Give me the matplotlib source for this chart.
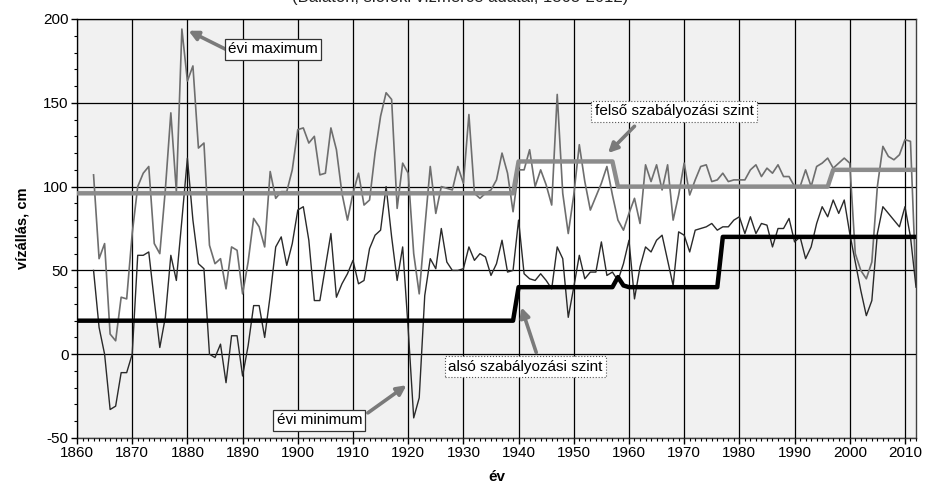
import numpy as np
import matplotlib
matplotlib.use('Agg')
import matplotlib.pyplot as plt
from matplotlib.ticker import MultipleLocator

plt.rcParams['font.family'] = ['Liberation Sans', 'DejaVu Sans']
plt.rcParams['axes.unicode_minus'] = False

# annual maximum / minimum water level (cm), 1863-2012
years = list(range(1863, 2013))
max_level = [107, 57, 66, 12, 8, 34, 33, 72, 100, 108,
             112, 66, 60, 98, 144, 97, 194, 163, 172, 123,
             126, 65, 54, 57, 39, 64, 62, 36, 55, 81,
             76, 64, 109, 93, 97, 97, 110, 134, 135, 126,
             130, 107, 108, 135, 122, 96, 80, 96, 108, 89,
             92, 120, 142, 156, 152, 87, 114, 108, 60, 36,
             75, 112, 84, 100, 99, 98, 112, 102, 143, 96,
             93, 96, 98, 104, 120, 108, 85, 110, 110, 122,
             100, 110, 101, 89, 155, 96, 72, 95, 125, 103,
             86, 94, 102, 112, 95, 80, 74, 84, 93, 78,
             113, 103, 113, 98, 113, 80, 95, 114, 95, 104,
             112, 113, 103, 104, 108, 103, 104, 104, 104, 110,
             113, 106, 111, 108, 113, 106, 106, 100, 100, 110,
             100, 112, 114, 117, 111, 114, 117, 114, 60, 50,
             45, 55, 100, 124, 118, 116, 119, 128, 127, 42]
min_level = [50, 16, 0, -33, -31, -11, -11, 0, 59, 59,
             61, 32, 4, 22, 59, 44, 80, 117, 80, 54,
             51, 0, -2, 6, -17, 11, 11, -13, 5, 29,
             29, 10, 35, 64, 70, 53, 66, 86, 88, 68,
             32, 32, 52, 72, 34, 42, 48, 56, 42, 44,
             63, 71, 74, 100, 70, 44, 64, 15, -38, -26,
             35, 57, 51, 75, 55, 50, 50, 51, 64, 56,
             60, 58, 47, 54, 68, 49, 50, 80, 48, 45,
             44, 48, 44, 39, 64, 57, 22, 40, 59, 45,
             49, 49, 67, 47, 49, 44, 54, 68, 33, 52,
             64, 61, 68, 71, 56, 41, 73, 71, 61, 74,
             75, 76, 78, 74, 76, 76, 80, 82, 72, 82,
             72, 78, 77, 64, 75, 75, 81, 67, 70, 57,
             64, 78, 88, 82, 92, 84, 92, 72, 55, 38,
             23, 32, 72, 88, 84, 80, 76, 88, 70, 40]

# regulation levels (cm)
level_years = [1860, 1939, 1940, 1957, 1958, 1959, 1960, 1976, 1977, 1996, 1997, 2012]
upper_level = [96, 96, 115, 115, 100, 100, 100, 100, 100, 100, 110, 110]
lower_level = [20, 20, 40, 40, 46, 41, 40, 40, 70, 70, 70, 70]

fig = plt.figure(figsize=(9.25, 4.91), dpi=100)
ax = fig.add_axes([77/925, 1 - 438/491, (916 - 77)/925, (438 - 19)/491])
ax.set_facecolor('#f1f1f1')

ax.fill_between(level_years, lower_level, upper_level, color='white', zorder=1)
ax.grid(True, which='major', color='black', lw=0.9, zorder=2)
ax.set_axisbelow(False)

ax.plot(years, max_level, color='#6e6e6e', lw=1.2, zorder=3)
ax.plot(years, min_level, color='#2a2a2a', lw=1.0, zorder=3)
ax.plot(level_years, upper_level, color='#8c8c8c', lw=3.2, zorder=4)
ax.plot(level_years, lower_level, color='black', lw=3.2, zorder=4)

ax.set_xlim(1860, 2012)
ax.set_ylim(-50, 200)
ax.xaxis.set_major_locator(MultipleLocator(10))
ax.xaxis.set_minor_locator(MultipleLocator(1))
ax.yaxis.set_major_locator(MultipleLocator(50))
ax.yaxis.set_minor_locator(MultipleLocator(10))
ax.tick_params(which='major', length=4, width=1, labelsize=11, pad=2)
ax.tick_params(which='minor', length=2.5, width=0.8)
for sp in ax.spines.values():
    sp.set_color('#404040')
    sp.set_linewidth(1.0)

ax.set_xlabel('év', fontsize=11, fontweight='bold', labelpad=7)
ax.set_ylabel('vízállás, cm', fontsize=10.5, fontweight='bold', labelpad=10)

# title line, mostly cut off by the top edge as in the source image
fig.text(0.498, 1 - 2/491, '(Balaton, siófoki vízmérce adatai, 1863-2012)', fontsize=12,
         ha='center', va='baseline', color='#222222')

# arrows: (tip, tail) in data coordinates
arrow = dict(arrowstyle='-|>', color='#7a7a7a', lw=2.6, mutation_scale=14, shrinkA=0, shrinkB=0)
ax.annotate('', xy=(1880.2, 193), xytext=(1886.9, 182), arrowprops=arrow, zorder=5)
ax.annotate('', xy=(1956.2, 120), xytext=(1961.0, 136), arrowprops=arrow, zorder=5)
ax.annotate('', xy=(1940.5, 28), xytext=(1943.2, 1), arrowprops=arrow, zorder=5)
ax.annotate('', xy=(1919.7, -18.5), xytext=(1912.7, -35), arrowprops=arrow, zorder=5)

box_solid = dict(boxstyle='square,pad=0.22', fc='white', ec='#333333', lw=0.9)
box_dot = dict(boxstyle='square,pad=0.22', fc='white', ec='#555555', lw=0.8, ls=':')
ax.text(1895.5, 182, 'évi maximum', fontsize=11, ha='center', va='center', bbox=box_solid, zorder=6)
ax.text(1968.2, 145, 'felső szabályozási szint', fontsize=11, ha='center', va='center', bbox=box_dot, zorder=6)
ax.text(1941.2, -7.5, 'alsó szabályozási szint', fontsize=11, ha='center', va='center', bbox=box_dot, zorder=6)
ax.text(1903.9, -39.4, 'évi minimum', fontsize=11, ha='center', va='center', bbox=box_solid, zorder=6)

fig.savefig('out.png', dpi=100)
